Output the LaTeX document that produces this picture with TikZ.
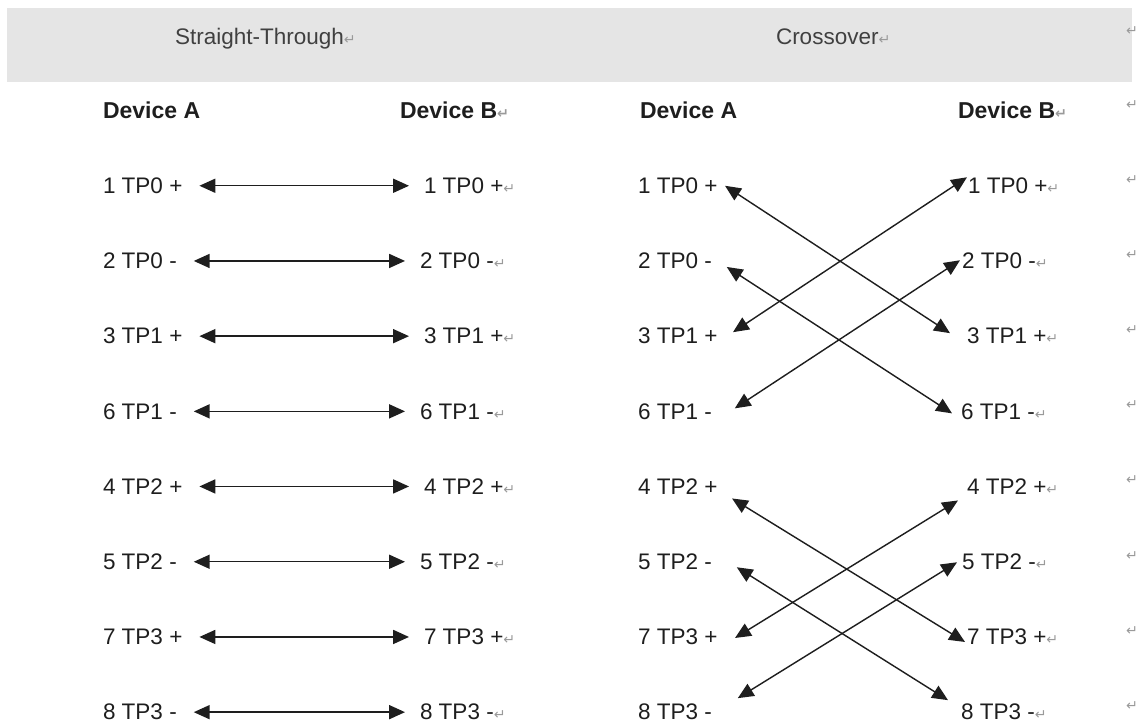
\documentclass[tikz,border=0pt]{standalone}
\usepackage{fontspec}
\setmainfont{Liberation Sans}
\newfontfamily\markfont{DejaVu Sans}
\usetikzlibrary{arrows.meta}

\definecolor{bandgray}{HTML}{E5E5E5}
\definecolor{inkgray}{HTML}{1E1E1E}
\definecolor{markgray}{HTML}{9A9A9A}
\newcommand{\pmark}{{\markfont\color{markgray}\fontsize{8.5}{9}\selectfont ↵}}

\begin{document}
\begin{tikzpicture}[x=0.6pt, y=-0.6pt,
    every node/.style={inner sep=0pt, outer sep=0pt, text=inkgray, font=\fontsize{13.5}{16}\selectfont},
    pinlabel/.style={anchor=base west},
    devhead/.style={anchor=base west, font=\bfseries\fontsize{13.8}{16}\selectfont},
    rowmark/.style={anchor=base west},
    link/.style={draw=inkgray, line width=0.85pt, {Triangle[length=9.5pt,width=8.4pt]}-{Triangle[length=9.5pt,width=8.4pt]}}]

    \useasboundingbox (0,0) rectangle (1140,725);

    % Header band
    \fill[bandgray] (7,8) rectangle (1132,82);
    \node[pinlabel, text=inkgray!85] (hst) at (175,44) {Straight-Through\pmark};
    \node[pinlabel, text=inkgray!85] (hcx) at (776,44) {Crossover\pmark};

    % Device headings
    \node[devhead] (sda) at (103,118) {Device A};
    \node[devhead] (sdb) at (400,118) {Device B\pmark};
    \node[devhead] (cda) at (640,118) {Device A};
    \node[devhead] (cdb) at (958,118) {Device B\pmark};

    % Pin labels, both tables (row y = 185.5 + 75.2*(i-1))
    \foreach \i/\txt/\bx/\cx in {1/{1 TP0 +}/424/968, 2/{2 TP0 -}/420/962,
        3/{3 TP1 +}/424/967, 4/{6 TP1 -}/420/961, 5/{4 TP2 +}/424/967,
        6/{5 TP2 -}/420/962, 7/{7 TP3 +}/424/967, 8/{8 TP3 -}/420/961} {
        \pgfmathsetmacro{\ry}{185.5+75.2*(\i-1)+8}
        \node[pinlabel] (sa\i) at (103,\ry) {\txt};
        \node[pinlabel] (sb\i) at (\bx,\ry) {\txt\pmark};
        \node[pinlabel] (ca\i) at (638,\ry) {\txt};
        \node[pinlabel] (cb\i) at (\cx,\ry) {\txt\pmark};
    }

    % Straight-through links
    \foreach \i in {1,...,8} {
        \draw[link] ([shift={(17,0)}]sa\i.east) -- ([shift={(-15,0)}]sb\i.west);
    }

    % Crossover links (pairs swapped inside each group)
    \foreach \l/\dl/\r/\dr in {1/{7.6,0}/3/{-17,-3}, 2/{15,6}/4/{-9,2},
        3/{15.6,-4}/1/{-1,-8.5}, 4/{23,-3}/2/{-2,-0.7},
        5/{14.6,12}/7/{-2,5}, 6/{25,5.5}/8/{-13,-12},
        7/{17.6,1}/5/{-9,14}, 8/{26,-14}/6/{-5,0.5}} {
        \draw[link] ([shift={(\dl)}]ca\l.east) -- ([shift={(\dr)}]cb\r.west);
    }

    % End-of-row marks at the right edge
    \node[rowmark] (em0) at (1126,35) {\pmark};
    \node[rowmark] (em1) at (1126,109) {\pmark};
    \foreach \i in {1,...,8} {
        \pgfmathsetmacro{\my}{185.5+75.2*(\i-1)-1.5}
        \node[rowmark] (em\i r) at (1126,\my) {\pmark};
    }

\end{tikzpicture}
\end{document}
